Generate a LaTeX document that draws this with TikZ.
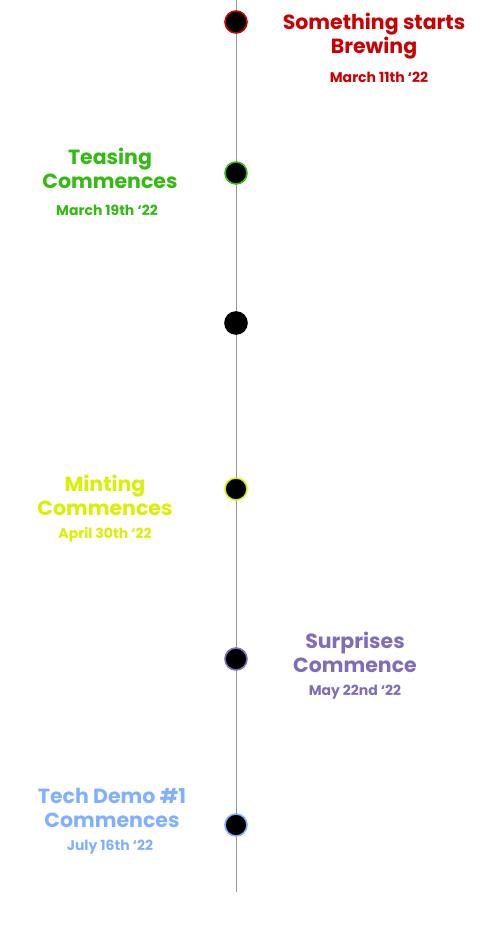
\documentclass[tikz,border=0pt]{standalone}
\usepackage{fontspec}
\setmainfont{Poppins}
\usetikzlibrary{positioning}
\definecolor{brewColor}{HTML}{CC0000}
\definecolor{teaseColor}{HTML}{33BB11}
\definecolor{mintColor}{HTML}{D9F000}
\definecolor{surpriseColor}{HTML}{7F6DB9}
\definecolor{demoColor}{HTML}{80B0FF}
\definecolor{lineColor}{HTML}{999999}

\begin{document}
\begin{tikzpicture}[x=1pt, y=-1pt,
    dot/.style={circle, fill=black, draw=#1, line width=1.6pt,
        minimum size=22pt, inner sep=0pt},
    title/.style={text=#1, align=center,
        font=\fontsize{20.5}{24}\selectfont\bfseries},
    datetext/.style={text=#1, font=\fontsize{14}{16}\selectfont\bfseries}]

    \useasboundingbox (0,0) rectangle (487,934);

    \coordinate (top) at (236,0);
    \coordinate (bottom) at (236,892);
    \draw[lineColor, line width=0.8pt] (top) -- (bottom);

    \node[dot=brewColor] (brew) at (236,22) {};
    \node[dot=teaseColor] (tease) at (236,173) {};
    \node[dot=black] (blank) at (236,323) {};
    \node[dot=mintColor] (mint) at (236,489) {};
    \node[dot=surpriseColor] (surprise) at (236,659) {};
    \node[dot=demoColor] (demo) at (236,825) {};

    \node[title=brewColor] (brewTitle) at (374,36.5) {Something starts\\Brewing};
    \node[datetext=brewColor] (brewDate) at (379,77.5) {March 11th ‘22};

    \node[title=teaseColor] (teaseTitle) at (110,168) {Teasing\\Commences};
    \node[datetext=teaseColor] (teaseDate) at (107,210.5) {March 19th ‘22};

    \node[title=mintColor] (mintTitle) at (105,495.5) {Minting\\Commences};
    \node[datetext=mintColor] (mintDate) at (105,534.5) {April 30th ‘22};

    \node[title=surpriseColor] (surpriseTitle) at (355,652.5) {Surprises\\Commence};
    \node[datetext=surpriseColor] (surpriseDate) at (355,692.5) {May 22nd ‘22};

    \node[title=demoColor] (demoTitle) at (112,808) {Tech Demo \#1\\Commences};
    \node[datetext=demoColor] (demoDate) at (110,847.5) {July 16th ‘22};
\end{tikzpicture}
\end{document}
